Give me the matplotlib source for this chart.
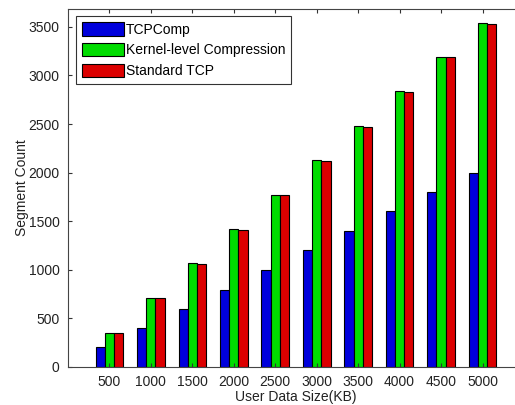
import numpy as np
import matplotlib
matplotlib.use("Agg")
import matplotlib.pyplot as plt

# ============================================================
# Data
# ============================================================
sizes = ["500", "1000", "1500", "2000", "2500", "3000", "3500", "4000", "4500", "5000"]
tcpcomp = [200, 400, 590, 795, 1000, 1200, 1400, 1600, 1800, 2000]
kernel_comp = [352, 708, 1064, 1422, 1772, 2125, 2480, 2836, 3195, 3545]
standard_tcp = [352, 706, 1062, 1412, 1770, 2122, 2472, 2828, 3188, 3535]

series_names = ["TCPComp", "Kernel-level Compression", "Standard TCP"]
colors = ["#0000dc", "#00dc00", "#dc0000"]

plt.rcParams["font.family"] = ["Liberation Sans", "DejaVu Sans"]

fig = plt.figure(figsize=(5.15, 4.05), dpi=100)
# axes runs past the right edge, like the cropped original
ax = fig.add_axes([0.132, 0.0946, 0.8854, 0.8844])

x = np.arange(1, len(sizes) + 1)
w = 0.222
for i, (vals, name, c) in enumerate(zip([tcpcomp, kernel_comp, standard_tcp], series_names, colors)):
    ax.bar(x + (i - 1) * w, vals, width=w, color=c, edgecolor="black",
           linewidth=0.8, label=name)

ax.set_xlim(0, 11)
ax.set_ylim(0, 3690)
ax.set_xticks(x)
ax.set_xticklabels(sizes)
ax.set_yticks(np.arange(0, 3501, 500))
ax.tick_params(direction="in", top=True, right=False, labelsize=10, length=3,
               pad=6, colors="#333333", labelcolor="#222222")
for s in ["top", "bottom", "left"]:
    ax.spines[s].set_color("#444444")
ax.spines["right"].set_visible(False)

ax.set_xlabel("User Data Size(KB)", fontsize=10, labelpad=0.5, color="#222222")
ax.set_ylabel("Segment Count", fontsize=10, labelpad=0, color="#222222")

leg = ax.legend(loc="upper left", fontsize=10, frameon=True, fancybox=False,
                edgecolor="black", handlelength=3.0, handleheight=1.1,
                handletextpad=0.15, labelspacing=0.45, borderpad=0.45,
                borderaxespad=0.55)
leg.get_frame().set_linewidth(0.8)

fig.savefig("out.png", dpi=100)
